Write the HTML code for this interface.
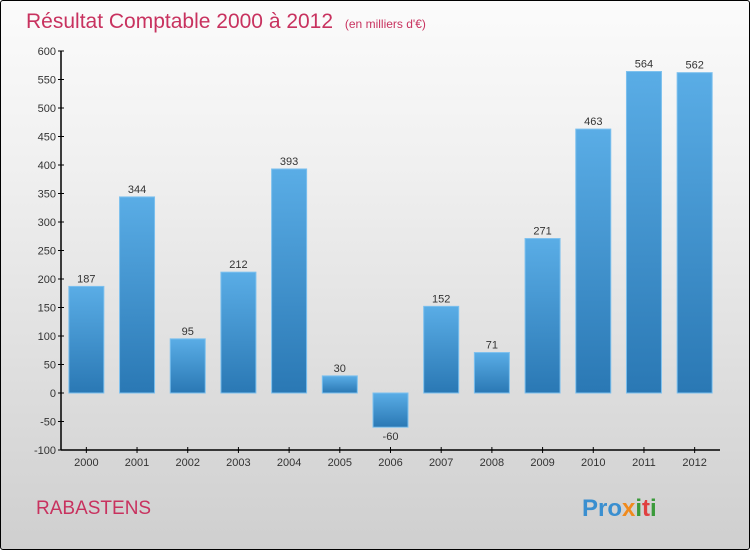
<!DOCTYPE html>
<html><head><meta charset="utf-8"><style>
html,body{margin:0;padding:0;}
body{width:750px;height:550px;overflow:hidden;font-family:"Liberation Sans",sans-serif;}
#wrap{position:absolute;left:0;top:0;width:748px;height:548px;border:1px solid #000;border-radius:3px;background:linear-gradient(#fbfbfb,#f0f0f0 30%,#cfcfcf);}
</style></head><body>
<div id="wrap">
<svg id="chart" width="750" height="550" style="position:absolute;left:-1px;top:-1px">
<defs><linearGradient id="bg" x1="0" y1="0" x2="0" y2="1"><stop offset="0" stop-color="#5aade6"/><stop offset="1" stop-color="#2a78b4"/></linearGradient></defs>
<text x="26" y="28" font-size="21" fill="#c8325f">Résultat Comptable 2000 à 2012 <tspan font-size="12" dx="6">(en milliers d'€)</tspan></text>
<text x="36" y="514" font-size="19" fill="#c8325f">RABASTENS</text>
<text x="582" y="516" font-size="24" font-weight="bold"><tspan fill="#3a8fd0">Pro</tspan><tspan fill="#f08a1c">x</tspan><tspan fill="#3a9a3a">i</tspan><tspan fill="#e04040">t</tspan><tspan fill="#3a9a3a">i</tspan></text>
<g id="plot"></g>
</svg>
</div>
<script>
const categories=["2000","2001","2002","2003","2004","2005","2006","2007","2008","2009","2010","2011","2012"];
const values=[187,344,95,212,393,30,-60,152,71,271,463,564,562];
const yTicks=[600,550,500,450,400,350,300,250,200,150,100,50,0,-50,-100];
const NS="http://www.w3.org/2000/svg";
const g=document.getElementById('plot');
const x0=61,x1=720,yTop=51,yBot=450,vMin=-100,vMax=600;
const band=(x1-x0)/categories.length;
function y(v){return yBot-(v-vMin)/(vMax-vMin)*(yBot-yTop);}
function xc(i){return x0+band*(i+0.5);}
function el(t,a){const e=document.createElementNS(NS,t);for(const k in a)e.setAttribute(k,a[k]);g.appendChild(e);return e;}
yTicks.forEach(t=>{
  const l=el('line',{x1:x0-3,x2:x0+3,y1:y(t),y2:y(t),stroke:'#000'});
  
  
  const tx=el('text',{x:x0-5,y:y(t)+4,'font-size':11,'text-anchor':'end',fill:'#333'});
  tx.textContent=t;
  
  
});
categories.forEach((c,i)=>{
  const v=values[i];
  const top=Math.min(y(v),y(0)),h=Math.abs(y(v)-y(0));
  const r=el('rect',{x:xc(i)-17.5,y:top,width:35,height:h,fill:'url(#bg)',stroke:'#7cc0ee','stroke-width':1});
  
  
  const vl=el('text',{x:xc(i),y:v>=0?y(v)-4:y(v)+13,'font-size':11,'text-anchor':'middle',fill:'#333'});
  vl.textContent=v;
  
  
  const tk=el('line',{x1:xc(i),x2:xc(i),y1:yBot-3,y2:yBot+3,stroke:'#000'});
  
  
  const xl=el('text',{x:xc(i),y:yBot+16,'font-size':11,'text-anchor':'middle',fill:'#333'});
  xl.textContent=c;
  
  
});
const ya=el('line',{x1:x0,x2:x0,y1:yTop,y2:yBot,stroke:'#000','stroke-width':1.5});


const xa=el('line',{x1:x0,x2:x1,y1:yBot,y2:yBot,stroke:'#000','stroke-width':1.5});


</script>
</body></html>
